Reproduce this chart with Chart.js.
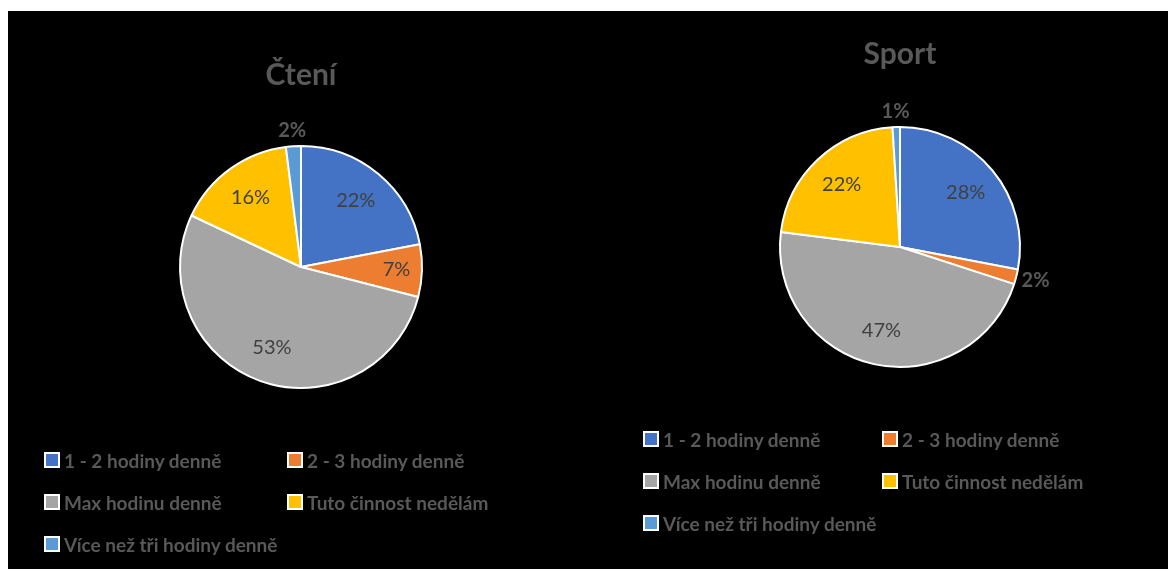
<!DOCTYPE html>
<html lang="cs">
<head>
<meta charset="utf-8">
<script src="https://cdn.jsdelivr.net/npm/chart.js@4.4.1/dist/chart.umd.min.js"></script>
<style>
    html, body { margin: 0; padding: 0; background: #ffffff; width: 1168px; height: 569px; overflow: hidden; }
    #plocha { position: absolute; left: 8px; top: 11px; width: 1160px; height: 558px; background: #000000; }
    canvas { position: absolute; top: 0; }
    .legenda { position: absolute; font-family: Lato, sans-serif; font-weight: bold; font-size: 19px; color: #595959; }
    .polozka { position: absolute; display: flex; align-items: center; white-space: nowrap; height: 20px; }
    .ctverec { width: 16px; height: 16px; box-sizing: border-box; border: 2px solid #ffffff; margin-right: 4px; }
</style>
</head>
<body>
<div id="plocha"></div>
<canvas id="grafCteni" width="584" height="569" style="left:0px"></canvas>
<canvas id="grafSport" width="584" height="569" style="left:584px"></canvas>
<div id="legendaCteni" class="legenda" style="left:44px; top:450px"></div>
<div id="legendaSport" class="legenda" style="left:643px; top:429px"></div>

<script>
const kategorie = ['1 - 2 hodiny denně', '2 - 3 hodiny denně', 'Max hodinu denně', 'Tuto činnost nedělám', 'Více než tři hodiny denně'];
const hodnotyCteni = [22, 7, 53, 16, 2];
const hodnotySport = [28, 2, 47, 22, 1];
const barvy = ['#4472C4', '#ED7D31', '#A5A5A5', '#FFC000', '#5B9BD5'];

// popisky procent - uvnitr vysece, male hodnoty venku
const popiskyPlugin = {
    id: 'popisky',
    afterDatasetsDraw(chart) {
        const ctx = chart.ctx;
        const meta = chart.getDatasetMeta(0);
        const data = chart.data.datasets[0].data;
        ctx.save();
        ctx.textAlign = 'center';
        ctx.textBaseline = 'middle';
        meta.data.forEach((arc, i) => {
            const p = arc.getProps(['x', 'y', 'startAngle', 'endAngle', 'outerRadius']);
            const uhel = (p.startAngle + p.endAngle) / 2;
            const dx = Math.cos(uhel);
            const dy = Math.sin(uhel);
            const text = data[i] + '%';
            let x, y;
            if (data[i] < 5) {
                ctx.font = 'bold 20px Lato, sans-serif';
                ctx.fillStyle = '#595959';
                const w = ctx.measureText(text).width;
                const d = p.outerRadius + 6;
                x = p.x + dx * d + dx * w / 2;
                y = p.y + dy * d + dy * 10;
            } else {
                ctx.font = '20px Lato, sans-serif';
                ctx.fillStyle = '#404040';
                const d = p.outerRadius * (data[i] < 10 ? 0.79 : 0.71);
                x = p.x + dx * d;
                y = p.y + dy * d;
            }
            ctx.fillText(text, x, y);
        });
        ctx.restore();
    }
};

function vytvorGraf(idPlatna, nadpis, hodnoty, titulekPadding, okraje) {
    const ctx = document.getElementById(idPlatna).getContext('2d');
    return new Chart(ctx, {
        type: 'pie',
        data: {
            labels: kategorie,
            datasets: [{
                data: hodnoty,
                backgroundColor: barvy,
                borderColor: '#ffffff',
                borderWidth: 2
            }]
        },
        options: {
            responsive: false,
            animation: false,
            layout: { padding: okraje },
            plugins: {
                legend: { display: false },
                tooltip: { enabled: false },
                title: {
                    display: true,
                    text: nadpis,
                    color: '#595959',
                    font: { family: 'Lato', size: 30, weight: 'bold' },
                    padding: titulekPadding
                }
            }
        },
        plugins: [popiskyPlugin]
    });
}

function vytvorLegendu(idLegendy, sloupec2, radek) {
    const el = document.getElementById(idLegendy);
    kategorie.forEach((nazev, i) => {
        const polozka = document.createElement('div');
        polozka.className = 'polozka';
        polozka.style.left = (i % 2 === 0 ? 0 : sloupec2) + 'px';
        polozka.style.top = (Math.floor(i / 2) * radek) + 'px';
        const ctverec = document.createElement('span');
        ctverec.className = 'ctverec';
        ctverec.style.background = barvy[i];
        const text = document.createElement('span');
        text.textContent = nazev;
        polozka.appendChild(ctverec);
        polozka.appendChild(text);
        el.appendChild(polozka);
    });
}

vytvorGraf('grafCteni', 'Čtení', hodnotyCteni, { top: 57, bottom: 52 }, { left: 179, right: 161, top: 0, bottom: 180 });
vytvorGraf('grafSport', 'Sport', hodnotySport, { top: 36, bottom: 54 }, { left: 195, right: 147, top: 0, bottom: 201 });

vytvorLegendu('legendaCteni', 243, 42);
vytvorLegendu('legendaSport', 239, 42);
</script>
</body>
</html>
